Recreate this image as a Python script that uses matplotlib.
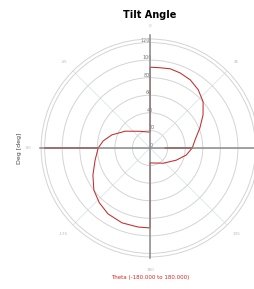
import numpy as np
import matplotlib.pyplot as plt
from matplotlib.lines import Line2D

# Tilt angle vs. theta (compass degrees, clockwise from north)
theta_deg = [-180, -180, -171.4, -159.5, -147.5, -137.2, -126.9, -115.4, -102.3,
             -90, -90, -90, -81.5, -71.1, -55.8, -30.5, 0,
             0, 7.1, 14.2, 21.8, 30.5, 39.6, 49, 58.1, 68.2, 79.9,
             90, 90, 90, 101, 114.8, 139, 180]
tilt = [17, 91, 91, 91, 89, 85, 80, 72, 64,
        59, 120, 59, 54, 46, 34, 22, 18,
        92, 92, 93, 92, 90, 86, 80, 71, 61, 52,
        48, 17, 48, 42, 33, 23, 17]

r_ticks = [0, 20, 40, 60, 80, 100, 120]
r_labels = ['0', '20', '40', '60', '80', '100', '120']
angle_ticks = [0, 45, 90, 135, 180, 225, 270, 315]
angle_labels = ['0', '45', '', '135', '180', '-135', '-90', '-45']

fig = plt.figure(figsize=(2.55, 2.89), dpi=100)
ax = fig.add_axes([0.161, 0.111, 0.855, 0.754], projection='polar')
ax.set_theta_zero_location('N')
ax.set_theta_direction(-1)

ax.plot(np.radians(theta_deg), tilt, color='#c42a2a', lw=0.75, zorder=3)

ax.set_ylim(0, 124)
ax.set_yticks(r_ticks)
ax.set_yticklabels(r_labels, fontsize=3.5, color='#777777')
ax.set_rlabel_position(355)
ax.set_xticks(np.radians(angle_ticks))
ax.set_xticklabels(angle_labels, fontsize=3, color='#bbbbbb')
ax.tick_params(axis='x', pad=-1)
ax.grid(True, axis='y', color='#d4d4d4', lw=0.7)
ax.grid(True, axis='x', color='#d6e6ec', lw=0.6)
ax.spines['polar'].set_color('#d4d4d4')
ax.spines['polar'].set_linewidth(0.7)
ax.set_facecolor('none')

# dark cross-hair axes through the centre
fig.add_artist(Line2D([40 / 255, 1.0], [1 - 148 / 289, 1 - 148 / 289],
                      color='#8a8a8a', lw=1.1, zorder=1))
fig.add_artist(Line2D([150 / 255, 150 / 255], [1 - 35 / 289, 1 - 258 / 289],
                      color='#8a8a8a', lw=1.1, zorder=1))

fig.text(150 / 255, 1 - 15 / 289, 'Tilt Angle', ha='center', va='center',
         fontsize=7, fontweight='bold')
fig.text(20 / 255, 1 - 148 / 289, 'Deg [deg]', ha='center', va='center',
         rotation=90, fontsize=4.5, color='#444444')
fig.text(150 / 255, 1 - 277 / 289, 'Theta (-180.000 to 180.000)', ha='center',
         va='center', fontsize=4, color='#dd2222')

fig.savefig('out.png', dpi=100)
